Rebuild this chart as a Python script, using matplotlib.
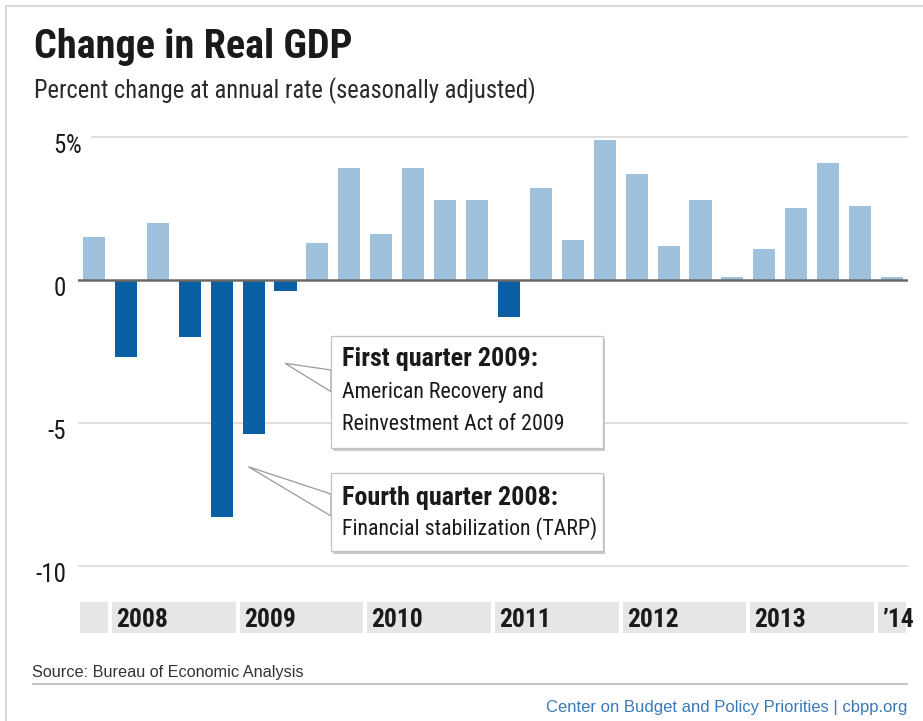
import matplotlib
matplotlib.use('Agg')
import matplotlib.pyplot as plt
import matplotlib.transforms as mtransforms
from matplotlib import font_manager as fm
from matplotlib.patches import Rectangle, Polygon

# --- Data: real GDP, percent change at annual rate, 2007 Q4 .. 2014 Q1 ---
quarters = ['2007Q4',
            '2008Q1', '2008Q2', '2008Q3', '2008Q4',
            '2009Q1', '2009Q2', '2009Q3', '2009Q4',
            '2010Q1', '2010Q2', '2010Q3', '2010Q4',
            '2011Q1', '2011Q2', '2011Q3', '2011Q4',
            '2012Q1', '2012Q2', '2012Q3', '2012Q4',
            '2013Q1', '2013Q2', '2013Q3', '2013Q4',
            '2014Q1']
gdp_change = [1.5,
              -2.7, 2.0, -2.0, -8.3,
              -5.4, -0.4, 1.3, 3.9,
              1.6, 3.9, 2.8, 2.8,
              -1.3, 3.2, 1.4, 4.9,
              3.7, 1.2, 2.8, 0.1,
              1.1, 2.5, 4.1, 2.6,
              0.1]
year_labels = ['', '2008', '2009', '2010', '2011', '2012', '2013', '\u201914']
year_quarters = [1, 4, 4, 4, 4, 4, 4, 1]
y_ticks = [5, 0, -5, -10]
y_ticklabels = ['5', '0', '-5', '-10']

# --- Fonts: look for a narrow/condensed sans (the original uses a condensed face) ---
COND = {'condensed', 'semi-condensed', 'extra-condensed', 'ultra-condensed'}


def wnum(w):
    return w if isinstance(w, (int, float)) else fm.weight_dict.get(w, 400)


def find_condensed():
    entries = [f for f in fm.fontManager.ttflist
               if f.stretch in COND or 'Narrow' in f.name or 'Condensed' in f.name]
    pref = ['Liberation Sans Narrow', 'Roboto Condensed', 'Open Sans Condensed',
            'Noto Sans', 'DejaVu Sans', 'Roboto', 'Open Sans']
    for fam in pref + sorted({f.name for f in entries}):
        fam_entries = [f for f in entries if f.name == fam and f.style == 'normal']
        reg = [f for f in fam_entries if 350 <= wnum(f.weight) <= 450]
        bold = [f for f in fam_entries if 650 <= wnum(f.weight) <= 750]
        if reg and bold:
            return fm.FontProperties(fname=reg[0].fname), fm.FontProperties(fname=bold[0].fname)
    return (fm.FontProperties(family='Liberation Sans'),
            fm.FontProperties(family='Liberation Sans', weight='bold'))


NARROW, NARROW_BOLD = find_condensed()
PLAIN = ['Liberation Sans', 'DejaVu Sans']

LIGHT_BLUE = '#9ec1dd'
DARK_BLUE = '#0b5fa5'
BAND_GRAY = '#e6e6e6'
GRID_GRAY = '#d6d6d6'
TEXT = '#1a1a1a'

W, H = 923, 721
fig = plt.figure(figsize=(W / 100, H / 100), dpi=100)
renderer = fig.canvas.get_renderer()


def width_of(t):
    return t.get_window_extent(renderer=renderer).width


def fit(t, width_px, max_size):
    # shrink the font until the text is as wide as in the original
    for _ in range(3):
        t.set_fontsize(min(max_size, t.get_fontsize() * width_px / width_of(t)))
    return t.get_fontsize()


# main chart axes (pixel box 78..908 x 128..633)
ax = fig.add_axes([78 / W, 1 - 633.3 / H, 830 / W, (633.3 - 128.4) / H])
ax.set_xlim(-0.5, len(quarters) - 0.5)
ax.set_ylim(-12.353, 5.3)
ax.axis('off')

x = list(range(len(quarters)))
colors = [LIGHT_BLUE if v >= 0 else DARK_BLUE for v in gdp_change]
ax.bar(x, gdp_change, width=0.69, color=colors, zorder=2)

# gridlines; the 5% line starts later to leave room for the % sign
for v in y_ticks:
    if v == 0:
        continue
    start = 14 / 830 if v == 5 else 0
    ax.axhline(v, xmin=start, xmax=1, color=GRID_GRAY, lw=1.1, zorder=1)
ax.axhline(0, color='#6a6a6a', lw=1.8, zorder=3)

# y labels, right aligned, sitting just below their gridline
lab_tr = mtransforms.offset_copy(ax.get_yaxis_transform(), fig=fig, x=-12, y=-16, units='dots')
ylabs = [ax.text(0, v, lab, transform=lab_tr, ha='right', va='baseline',
                 fontproperties=NARROW, fontsize=21, color=TEXT)
         for v, lab in zip(y_ticks, y_ticklabels)]
ysize = fit(ylabs[-1], 31, 21.5)
for t in ylabs:
    t.set_fontsize(ysize)
ax.text(0, y_ticks[0], '%', transform=lab_tr, ha='left', va='baseline',
        fontproperties=NARROW, fontsize=ysize, color=TEXT)

# year bands along the bottom
gap = 0.06
start = 0
ytexts = []
for lab, n in zip(year_labels, year_quarters):
    left = start - 0.5 + gap
    ax.bar(left, 1.1, width=n - 2 * gap, bottom=-12.353, align='edge',
           color=BAND_GRAY, zorder=1)
    if lab:
        ytexts.append(ax.text(left + 0.13, -12.13, lab, ha='left', va='baseline',
                              fontproperties=NARROW_BOLD, fontsize=20, color=TEXT, zorder=4))
    start += n
ysz = fit(ytexts[0], 52, 20.5)
for t in ytexts:
    t.set_fontsize(ysz)

# --- overlay in pixel coordinates for titles, callouts and footer ---
ov = fig.add_axes([0, 0, 1, 1], zorder=5)
ov.set_xlim(0, W)
ov.set_ylim(H, 0)
ov.axis('off')

# frame
ov.plot([6, 6, W], [H, 6, 6], color='#d9d9d9', lw=1.5)

title = ov.text(34, 58, 'Change in Real GDP', ha='left', va='baseline',
                fontproperties=NARROW_BOLD, fontsize=30, color=TEXT)
fit(title, 319, 30)
sub = ov.text(34, 98, 'Percent change at annual rate (seasonally adjusted)', ha='left',
              va='baseline', fontproperties=NARROW, fontsize=22, color='#2a2a2a')
fit(sub, 505, 22)


def callout(box, tip, join, lines):
    x0, y0, x1, y1 = box
    ov.add_patch(Polygon([(x0, join[0]), tip, (x0, join[1])], closed=True,
                         facecolor='white', edgecolor='#9a9a9a', lw=0.9, zorder=1))
    ov.add_patch(Rectangle((x0 + 2, y0 + 3), x1 - x0, y1 - y0, facecolor='#c9c9c9',
                           edgecolor='none', zorder=2))
    ov.add_patch(Rectangle((x0, y0), x1 - x0, y1 - y0, facecolor='white',
                           edgecolor='#c2c2c2', lw=0.9, zorder=3))
    out = []
    for txt, bold, base, width in lines:
        t = ov.text(x0 + 11, base, txt, ha='left', va='baseline',
                    fontproperties=NARROW_BOLD if bold else NARROW, fontsize=20,
                    color=TEXT, zorder=4)
        out.append((t, bold, fit(t, width, 20.5)))
    return out


c1 = callout((331, 336, 602.5, 447.5), (285, 363.3), (370, 391.7),
             [('First quarter 2009:', True, 366, 205),
              ('American Recovery and', False, 398.3, 226),
              ('Reinvestment Act of 2009', False, 430, 248)])
c2 = callout((331, 472.7, 602.5, 550.5), (248.3, 466.7), (494, 516),
             [('Fourth quarter 2008:', True, 505, 205),
              ('Financial stabilization (TARP)', False, 535, 248)])
# one size per weight (mean of the fits), shrunk only if a line would leave its box
allc = c1 + c2
inner = 602.5 - 331 - 11 - 6
for flag in (True, False):
    group = [t for t, b, _ in allc if b == flag]
    sizes = [s for _, b, s in allc if b == flag]
    size = sum(sizes) / len(sizes)
    for t in group:
        t.set_fontsize(size)
    widest = max(width_of(t) for t in group)
    if widest > inner:
        size *= inner / widest
    for t in group:
        t.set_fontsize(size)

# footer
ov.text(32, 677.3, 'Source: Bureau of Economic Analysis', ha='left', va='baseline',
        fontsize=11.7, family=PLAIN, color='#333333')
ov.plot([33, 907], [684, 684], color='#c4c4c4', lw=1.5)
ov.text(907, 711.7, 'Center on Budget and Policy Priorities | cbpp.org', ha='right',
        va='baseline', fontsize=12, family=PLAIN, color='#3a79b8')

fig.savefig('out.png', dpi=100)
